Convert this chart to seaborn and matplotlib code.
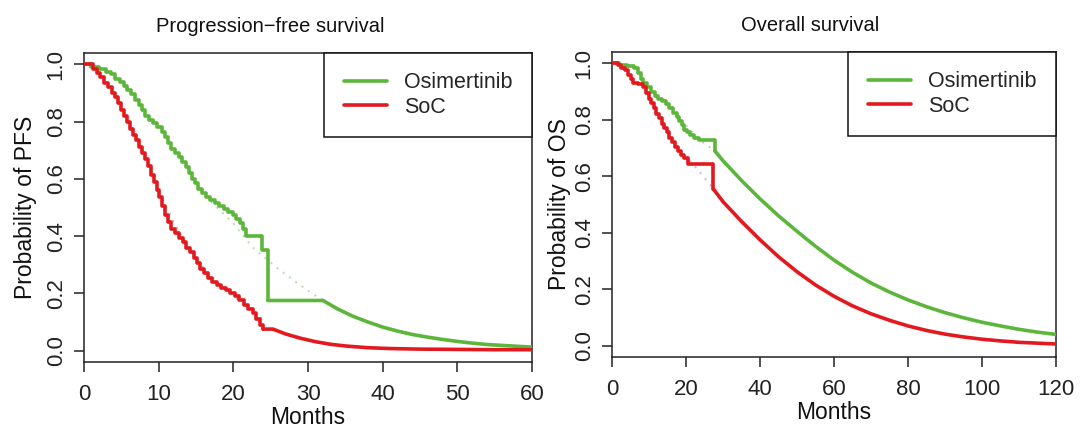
import numpy as np
import pandas as pd
import matplotlib
matplotlib.use("Agg")
import matplotlib.pyplot as plt
from matplotlib.ticker import FormatStrFormatter
import seaborn as sns

# ---------------- data ----------------
# PFS, Osimertinib: Kaplan-Meier steps
pfs_osi_t = [0, 1.0, 2.0, 3.0, 3.6, 4.2, 4.8, 5.3, 5.8, 6.3, 6.8, 7.3, 7.8, 8.2, 8.7, 9.3,
             9.8, 10.4, 10.9, 11.3, 11.7, 12.2, 12.7, 13.1, 13.6, 14.0, 14.5, 14.9, 15.3,
             15.8, 16.3, 16.9, 17.5, 18.1, 18.7, 19.3, 19.9, 20.4, 20.9, 21.3, 21.7, 23.8, 24.6]
pfs_osi_s = [1.0, 0.99, 0.985, 0.975, 0.965, 0.95, 0.94, 0.925, 0.91, 0.895, 0.875, 0.86, 0.84,
             0.82, 0.805, 0.795, 0.78, 0.765, 0.745, 0.725, 0.705, 0.69, 0.675, 0.66, 0.64, 0.62,
             0.60, 0.585, 0.565, 0.55, 0.535, 0.525, 0.515, 0.505, 0.495, 0.485, 0.475, 0.46,
             0.445, 0.425, 0.40, 0.35, 0.175]
# PFS, Osimertinib: extrapolated tail
pfs_osi_tail_t = [24.6, 32.0, 34, 36, 38, 40, 42, 44, 46, 48, 50, 52, 54, 56, 58, 60]
pfs_osi_tail_s = [0.175, 0.175, 0.145, 0.12, 0.10, 0.082, 0.068, 0.056, 0.047, 0.039, 0.032,
                  0.026, 0.021, 0.018, 0.015, 0.012]
# PFS, Osimertinib: fitted (dotted)
pfs_osi_fit_t = [17.0, 19.8, 22.6, 25.8, 28.5, 31.2, 32.5]
pfs_osi_fit_s = [0.52, 0.45, 0.36, 0.29, 0.237, 0.188, 0.172]

# PFS, SoC: Kaplan-Meier steps
pfs_soc_t = [0, 1.2, 1.7, 2.2, 2.7, 3.2, 3.7, 4.2, 4.6, 5.0, 5.4, 5.8, 6.2, 6.6, 7.0, 7.4, 7.8,
             8.2, 8.6, 9.0, 9.4, 9.8, 10.1, 10.5, 10.9, 11.3, 11.7, 12.2, 12.7, 13.2, 13.7, 14.2,
             14.7, 15.1, 15.6, 16.1, 16.6, 17.2, 17.8, 18.4, 19.0, 19.6, 20.2, 20.8, 21.4, 22.0,
             22.6, 23.1, 23.6, 24.0]
pfs_soc_s = [1.0, 0.985, 0.97, 0.955, 0.935, 0.92, 0.90, 0.885, 0.865, 0.84, 0.82, 0.80, 0.775,
             0.755, 0.735, 0.71, 0.69, 0.67, 0.645, 0.615, 0.59, 0.56, 0.535, 0.505, 0.475, 0.45,
             0.425, 0.41, 0.395, 0.38, 0.36, 0.345, 0.325, 0.305, 0.285, 0.27, 0.255, 0.24, 0.23,
             0.22, 0.21, 0.20, 0.19, 0.175, 0.16, 0.145, 0.13, 0.11, 0.09, 0.075]
pfs_soc_tail_t = [24.0, 25.3, 27, 29, 31, 33, 35, 38, 41, 45, 50, 55, 60]
pfs_soc_tail_s = [0.075, 0.075, 0.058, 0.043, 0.031, 0.022, 0.016, 0.010, 0.007, 0.005, 0.004,
                  0.003, 0.003]
pfs_soc_fit_t = [9.0, 10.5, 12.0, 14.0, 16.0, 18.0, 20.0, 22.0, 24.0]
pfs_soc_fit_s = [0.63, 0.53, 0.45, 0.36, 0.29, 0.235, 0.19, 0.15, 0.11]

# OS, Osimertinib
os_osi_t = [0, 2, 4, 6, 7, 7.8, 8.5, 9.5, 10.5, 11.5, 12.5, 13.5, 14.5, 15.5, 16.5, 17.5, 18.2,
            18.8, 19.5, 20.3, 21.2, 22.2, 23.5, 27.8]
os_osi_s = [1.0, 0.995, 0.99, 0.985, 0.965, 0.945, 0.93, 0.915, 0.90, 0.885, 0.875, 0.865, 0.855,
            0.84, 0.825, 0.81, 0.795, 0.78, 0.765, 0.755, 0.745, 0.735, 0.73, 0.69]
os_osi_tail_t = [27.8, 30, 35, 40, 45, 50, 55, 60, 65, 70, 75, 80, 85, 90, 95, 100, 105, 110,
                 115, 120]
os_osi_tail_s = [0.69, 0.655, 0.585, 0.52, 0.46, 0.405, 0.352, 0.303, 0.26, 0.222, 0.19, 0.162,
                 0.138, 0.117, 0.099, 0.083, 0.07, 0.058, 0.048, 0.04]
os_osi_fit_t = [20.0, 24.0, 27.8]
os_osi_fit_s = [0.78, 0.725, 0.69]

# OS, SoC
os_soc_t = [0, 1.5, 2.5, 3.5, 4.3, 5.0, 5.7, 7.0, 8.4, 9.2, 9.9, 10.6, 11.3, 12.0, 12.7, 13.4,
            14.1, 14.8, 15.5, 16.2, 17.0, 17.8, 18.6, 19.5, 20.5, 27.4]
os_soc_s = [1.0, 0.995, 0.985, 0.975, 0.96, 0.945, 0.93, 0.925, 0.915, 0.895, 0.875, 0.86, 0.84,
            0.82, 0.805, 0.785, 0.77, 0.755, 0.735, 0.72, 0.705, 0.69, 0.675, 0.665, 0.645, 0.555]
os_soc_tail_t = [27.4, 30, 35, 40, 45, 50, 55, 60, 65, 70, 75, 80, 85, 90, 95, 100, 105, 110,
                 115, 120]
os_soc_tail_s = [0.555, 0.51, 0.44, 0.375, 0.315, 0.262, 0.215, 0.175, 0.141, 0.113, 0.09, 0.07,
                 0.054, 0.041, 0.031, 0.023, 0.017, 0.012, 0.009, 0.006]
os_soc_fit_t = [21.0, 24.0, 27.4]
os_soc_fit_s = [0.655, 0.61, 0.555]

series_names = ["Osimertinib", "SoC"]
titles = ["Progression\u2212free survival", "Overall survival"]
ylabels = ["Probability of PFS", "Probability of OS"]
xlabel = "Months"
pfs_xticks = [0, 10, 20, 30, 40, 50, 60]
os_xticks = [0, 20, 40, 60, 80, 100, 120]
yticks = [0.0, 0.2, 0.4, 0.6, 0.8, 1.0]

# ---------------- style ----------------
GREEN = "#5DB63C"
RED = "#E2191E"
sns.set_theme(style="ticks")
plt.rcParams["font.family"] = ["Liberation Sans", "DejaVu Sans"]
plt.rcParams["axes.linewidth"] = 1.1

fig = plt.figure(figsize=(10.81, 4.32), dpi=100)
W, H = 1081, 432
ax1 = fig.add_axes([84 / W, 1 - 362 / H, 448 / W, 309 / H])
ax2 = fig.add_axes([612 / W, 1 - 357 / H, 444 / W, 305 / H])

LW = 2.6


def draw(ax, t, s, tt, ts, ft, fs, color, fitcolor, label):
    sns.lineplot(x=ft, y=fs, ax=ax, color=fitcolor, lw=1.4, linestyle=(0, (1, 3)),
                 estimator=None, sort=False, legend=False, zorder=2)
    sns.lineplot(x=t, y=s, ax=ax, color=color, lw=LW, drawstyle="steps-post",
                 estimator=None, sort=False, label=label, zorder=3)
    sns.lineplot(x=tt, y=ts, ax=ax, color=color, lw=LW, estimator=None, sort=False,
                 legend=False, zorder=3)


draw(ax1, pfs_osi_t, pfs_osi_s, pfs_osi_tail_t, pfs_osi_tail_s, pfs_osi_fit_t, pfs_osi_fit_s,
     GREEN, "#b9d9b0", series_names[0])
draw(ax1, pfs_soc_t, pfs_soc_s, pfs_soc_tail_t, pfs_soc_tail_s, pfs_soc_fit_t, pfs_soc_fit_s,
     RED, "#d8b8c0", series_names[1])
draw(ax2, os_osi_t, os_osi_s, os_osi_tail_t, os_osi_tail_s, os_osi_fit_t, os_osi_fit_s,
     GREEN, "#b9d9b0", series_names[0])
draw(ax2, os_soc_t, os_soc_s, os_soc_tail_t, os_soc_tail_s, os_soc_fit_t, os_soc_fit_s,
     RED, "#d8b8c0", series_names[1])

for ax, xt, title, yl, xmax, lx, tx in [
        (ax1, pfs_xticks, titles[0], ylabels[0], 60, -0.104, (270 - 84) / 448),
        (ax2, os_xticks, titles[1], ylabels[1], 120, -0.092, (810 - 612) / 444)]:
    ax.set_xlim(0, xmax)
    ax.set_ylim(-0.04, 1.04)
    ax.set_xticks(xt)
    ax.set_yticks(yticks)
    ax.yaxis.set_major_formatter(FormatStrFormatter("%.1f"))
    ax.tick_params(axis="both", length=7.5, width=1.1, color="#222222", labelsize=16,
                   labelcolor="#222222", pad=5)
    ax.tick_params(axis="x", pad=8)
    plt.setp(ax.get_yticklabels(), rotation=90, va="center")
    for sp in ax.spines.values():
        sp.set_visible(True)
        sp.set_color("#222222")
    ax.set_title(title, fontsize=14.5, pad=15, color="#111111", x=tx)
    ax.set_xlabel(xlabel, fontsize=16.5, labelpad=1, color="#111111")
    ax.set_ylabel(yl, fontsize=16.5, color="#111111")
    ax.yaxis.set_label_coords(lx, 0.5)
    ax.grid(False)
    leg = ax.legend(loc="upper right", fontsize=15.5, frameon=True, fancybox=False,
                    edgecolor="#111111", framealpha=1, borderaxespad=0, handlelength=2.0,
                    handletextpad=0.8, borderpad=0.9, labelspacing=0.15)
    leg.get_frame().set_linewidth(1.1)
    for h in leg.get_lines():
        h.set_linewidth(LW)

fig.savefig("out.png", dpi=100)
